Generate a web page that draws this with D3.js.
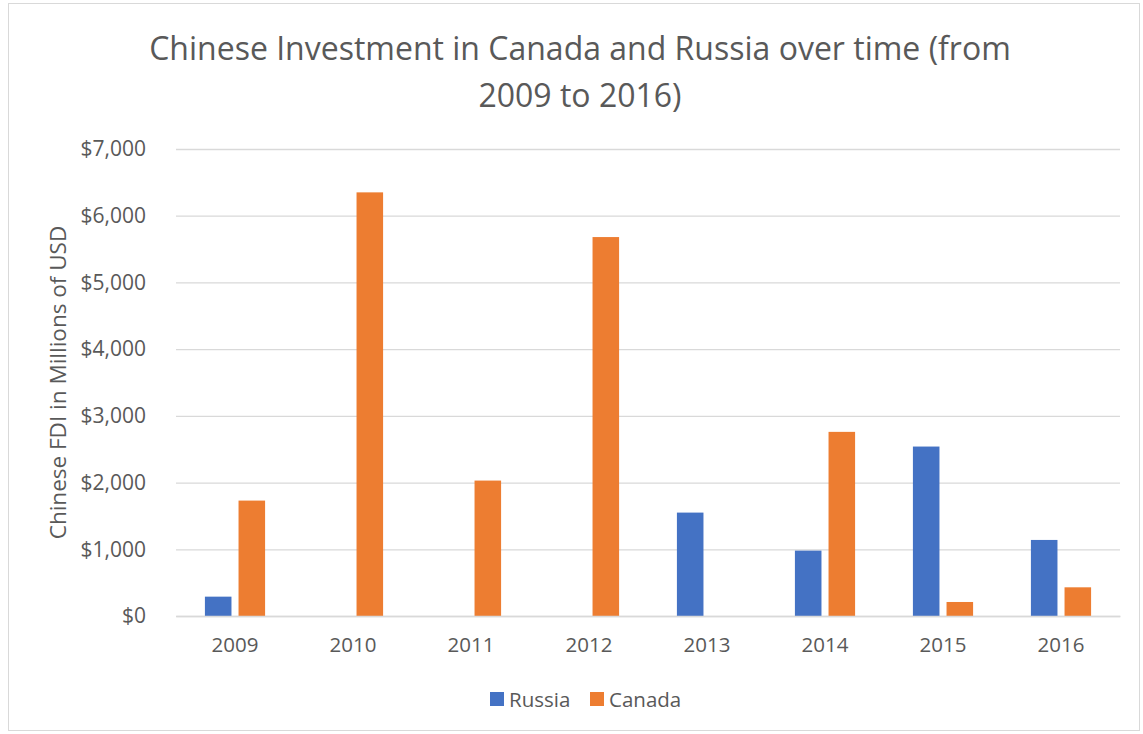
<!DOCTYPE html>
<html>
<head>
<meta charset="utf-8">
<script src="https://cdn.jsdelivr.net/npm/d3@7"></script>
<style>
  body { margin: 0; background: #fff; }
  svg text { font-family: "Open Sans", "Noto Sans", sans-serif; fill: #595959; }
</style>
</head>
<body>
<div id="chart"></div>
<script>
// Chart data
const years = ["2009", "2010", "2011", "2012", "2013", "2014", "2015", "2016"];
const seriesNames = ["Russia", "Canada"];
const russia = [290, 0, 0, 0, 1550, 980, 2540, 1140];
const canada = [1730, 6350, 2030, 5680, 0, 2760, 210, 430];
const yTicks = [0, 1000, 2000, 3000, 4000, 5000, 6000, 7000];

const COLORS = { Russia: '#4472C4', Canada: '#ED7D31' };

const width = 1143, height = 734;
const margin = { top: 149, right: 23, bottom: 118, left: 176 };

const svg = d3.select("#chart").append("svg")
  .attr("width", width)
  .attr("height", height);

// Chart frame
svg.append("rect")
  .attr("x", 8.5).attr("y", 3.5)
  .attr("width", 1131).attr("height", 727)
  .attr("fill", "#fff")
  .attr("stroke", "#d9d9d9");

const x = d3.scaleBand()
  .domain(years)
  .range([margin.left, width - margin.right])
  .paddingInner(0.49)
  .paddingOuter(0.245);

const xSub = d3.scaleBand()
  .domain(seriesNames)
  .range([0, x.bandwidth()])
  .paddingInner(0.21);

const y = d3.scaleLinear()
  .domain([0, 7000])
  .range([height - margin.bottom, margin.top]);

// Gridlines
svg.append("g")
  .attr("transform", `translate(${margin.left},0)`)
  .call(d3.axisLeft(y).tickValues(yTicks).tickSize(-(width - margin.left - margin.right)).tickFormat(""))
  .call(g => g.select(".domain").remove())
  .call(g => g.selectAll("line").attr("stroke", "#d9d9d9").attr("stroke-width", 1.3));

// Y tick labels
svg.append("g")
  .attr("transform", `translate(${margin.left},0)`)
  .call(d3.axisLeft(y).tickValues(yTicks).tickSize(0).tickPadding(30)
    .tickFormat(d => "$" + d3.format(",")(d)))
  .call(g => g.select(".domain").remove())
  .call(g => g.selectAll("text").attr("font-size", "21px").style("fill", "#595959"));

// Bars
const rows = years.map((yr, i) => ({ year: yr, Russia: russia[i], Canada: canada[i] }));

svg.append("g").selectAll("g")
  .data(rows)
  .join("g")
  .attr("transform", d => `translate(${x(d.year)},0)`)
  .selectAll("rect")
  .data(d => seriesNames.map(s => ({ key: s, value: d[s] })))
  .join("rect")
  .attr("x", d => xSub(d.key))
  .attr("width", xSub.bandwidth())
  .attr("y", d => y(d.value))
  .attr("height", d => y(0) - y(d.value))
  .attr("fill", d => COLORS[d.key]);

// X axis
svg.append("g")
  .attr("transform", `translate(0,${y(0)})`)
  .call(d3.axisBottom(x).tickSize(0).tickPadding(21))
  .call(g => g.select(".domain").attr("stroke", "#d9d9d9").attr("stroke-width", 1.3))
  .call(g => g.selectAll("text").attr("font-size", "20.5px").style("fill", "#595959"));

// Title
const title = svg.append("text")
  .attr("text-anchor", "middle")
  .attr("font-size", "32px");
title.append("tspan").attr("x", 580).attr("y", 60)
  .text("Chinese Investment in Canada and Russia over time (from");
title.append("tspan").attr("x", 580).attr("y", 107)
  .text("2009 to 2016)");

// Y axis title
svg.append("text")
  .attr("transform", `translate(66,${(y(0) + y(7000)) / 2}) rotate(-90)`)
  .attr("text-anchor", "middle")
  .attr("font-size", "22.5px")
  .text("Chinese FDI in Millions of USD");

// Legend
const legend = svg.append("g").attr("transform", "translate(490,699)");
const legendItems = legend.selectAll("g")
  .data(seriesNames)
  .join("g")
  .attr("transform", (d, i) => `translate(${i * 100},0)`);
legendItems.append("rect")
  .attr("x", 0).attr("y", -7)
  .attr("width", 14).attr("height", 14)
  .attr("fill", d => COLORS[d]);
legendItems.append("text")
  .attr("x", 19).attr("y", 7.5)
  .attr("font-size", "20.5px")
  .text(d => d);
</script>
</body>
</html>
